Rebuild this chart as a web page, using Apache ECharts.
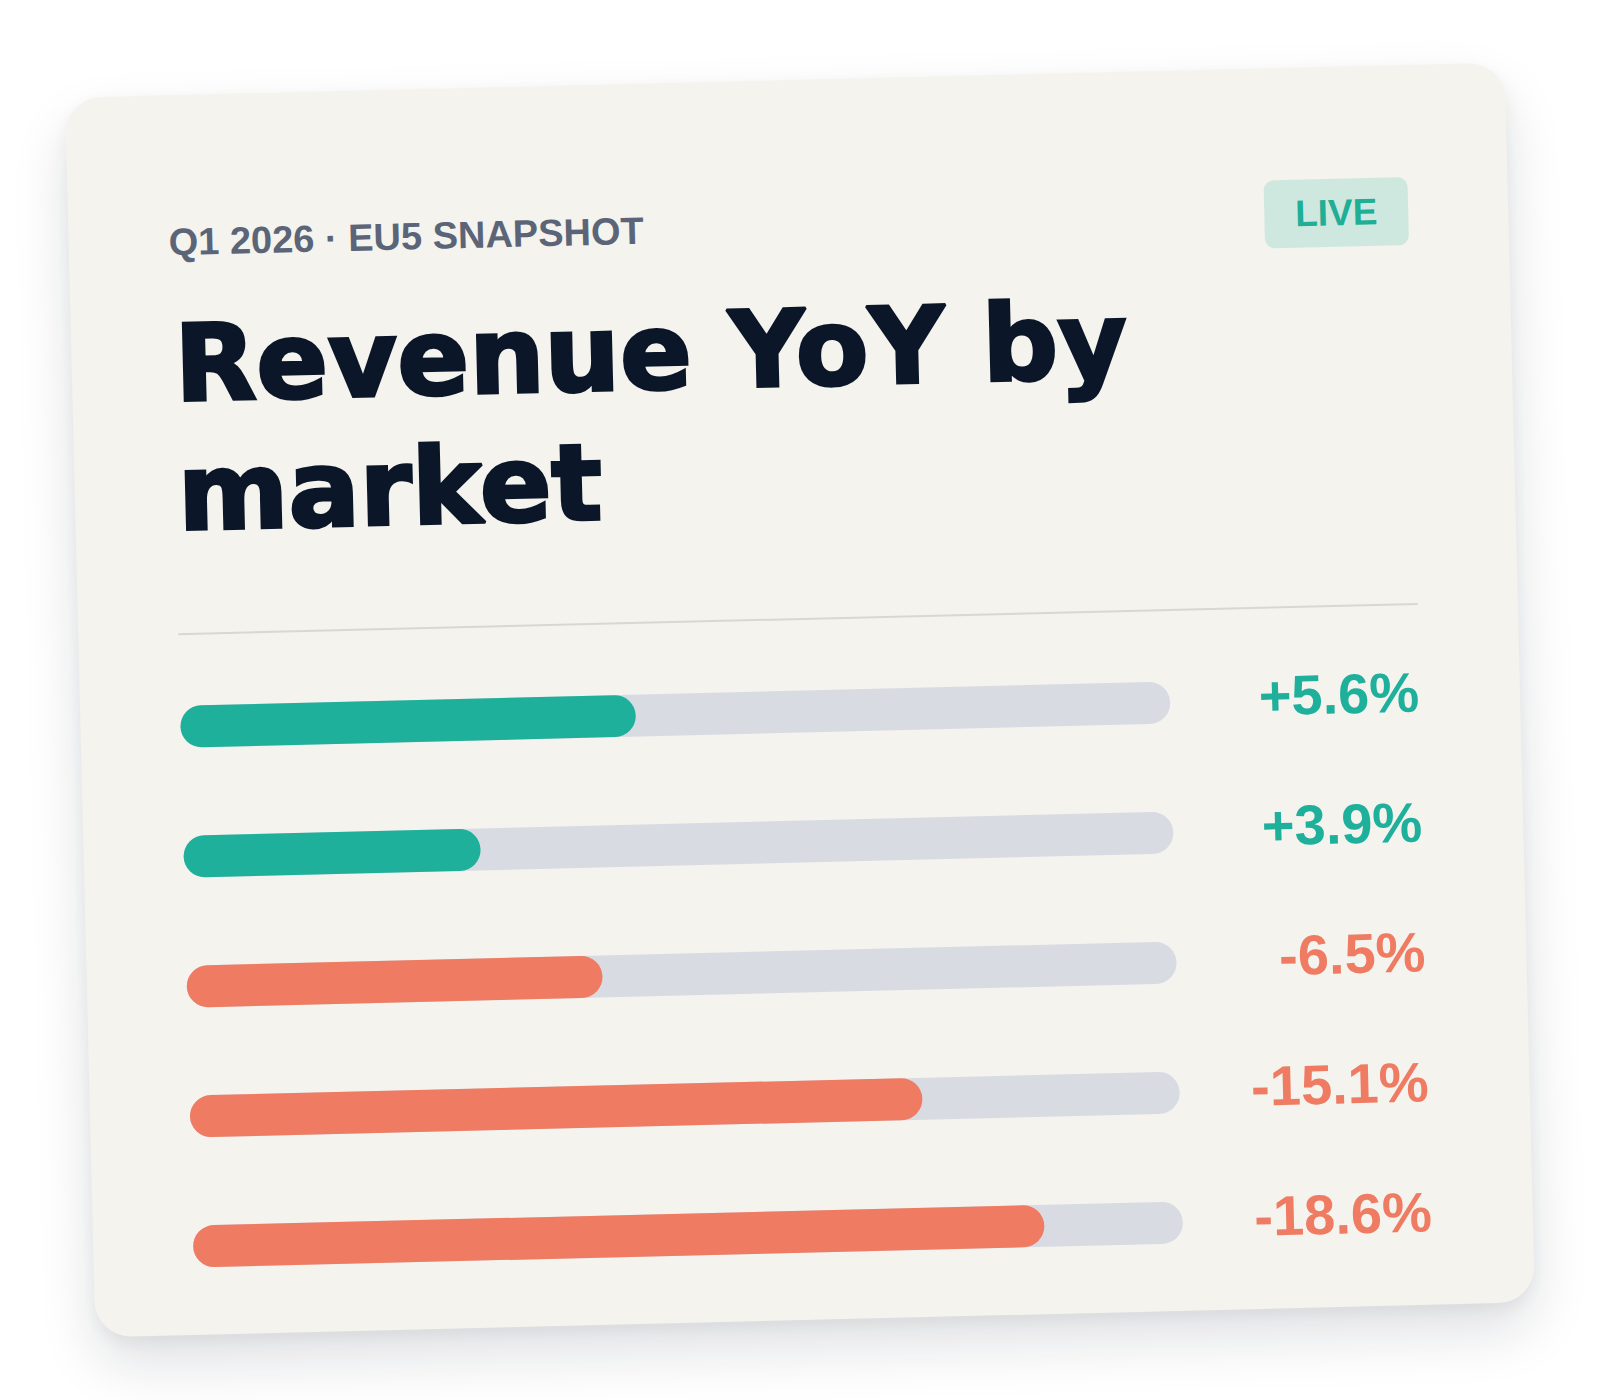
<!DOCTYPE html>
<html>
<head>
<meta charset="utf-8">
<script src="https://cdn.jsdelivr.net/npm/echarts@6/dist/echarts.min.js"></script>
<style>
  html, body { margin: 0; padding: 0; background: #ffffff; width: 1600px; height: 1400px; overflow: hidden; }
  #card {
    position: absolute; left: 80px; top: 80px; width: 1440px; height: 1240px;
    background: #F4F3EE; border-radius: 36px;
    transform: rotate(-1.4deg);
    box-shadow: 0 28px 56px rgba(15, 23, 42, 0.13), 0 6px 16px rgba(15, 23, 42, 0.05);
  }
  #chart { width: 1440px; height: 1240px; }
</style>
</head>
<body>
<div id="card"><div id="chart"></div></div>
<script>
// ---- data ----
const eyebrow = 'Q1 2026 · EU5 SNAPSHOT';
const titleLines = ['Revenue YoY by', 'market'];
const badgeText = 'LIVE';
const markets = ['Market 1', 'Market 2', 'Market 3', 'Market 4', 'Market 5'];
const yoyChange = [5.6, 3.9, -6.5, -15.1, -18.6];   // % year over year (labels)
const barFill = [46, 30, 42, 74, 86];               // bar fill, % of track

// ---- styles ----
const GREEN = '#1FB09C';
const ORANGE = '#EE7B62';
const TRACK = '#D9DBE3';
const INK = '#0B1628';
const SANS = '"Liberation Sans", Arial, sans-serif';
const HEAVY = '"DejaVu Sans", "Liberation Sans", sans-serif';

const chart = echarts.init(document.getElementById('chart'), null, { renderer: 'svg', width: 1440, height: 1240 });

const fmt = v => (v > 0 ? '+' : '') + v.toFixed(1) + '%';

const titleText = (txt, y) => ({
  type: 'text', x: 103, y: y, silent: true,
  style: { text: txt, fill: INK, stroke: INK, lineWidth: 3, lineJoin: 'round',
           font: 'bold 106px ' + HEAVY,
           textAlign: 'left', textVerticalAlign: 'middle', align: 'left', verticalAlign: 'middle' }
});

chart.setOption({
  animation: false,
  backgroundColor: 'transparent',
  grid: { left: 100, top: 566.6, width: 990, height: 650 },
  xAxis: { type: 'value', min: 0, max: 100, show: false },
  yAxis: { type: 'category', data: markets, inverse: true, show: false },
  series: [{
    type: 'bar',
    silent: true,
    barWidth: 42,
    showBackground: true,
    backgroundStyle: { color: TRACK, borderRadius: 21 },
    itemStyle: { borderRadius: 21 },
    data: barFill.map((v, i) => ({
      value: v,
      itemStyle: { color: yoyChange[i] >= 0 ? GREEN : ORANGE },
      label: { color: yoyChange[i] >= 0 ? GREEN : ORANGE }
    })),
    label: {
      show: true,
      position: [1239, 16.5],
      align: 'right',
      verticalAlign: 'middle',
      fontFamily: SANS,
      fontWeight: 'bold',
      fontSize: 56,
      formatter: p => fmt(yoyChange[p.dataIndex])
    }
  }],
  graphic: [
    {
      type: 'text', x: 100, y: 147, silent: true,
      style: { text: eyebrow, fill: '#5B6577', font: 'bold 38px ' + SANS,
               textAlign: 'left', textVerticalAlign: 'middle', align: 'left', verticalAlign: 'middle' }
    },
    titleText(titleLines[0], 269),
    titleText(titleLines[1], 398),
    {
      type: 'rect', silent: true,
      shape: { x: 1196, y: 112, width: 144, height: 68, r: 10 },
      style: { fill: '#CFE8DF' }
    },
    {
      type: 'text', x: 1268, y: 146, silent: true,
      style: { text: badgeText, fill: '#1FAE96', font: 'bold 37px ' + SANS,
               textAlign: 'center', textVerticalAlign: 'middle', align: 'center', verticalAlign: 'middle' }
    },
    {
      type: 'line', silent: true,
      shape: { x1: 100, y1: 539, x2: 1340, y2: 539 },
      style: { stroke: '#D9D7D1', lineWidth: 2 }
    }
  ]
});
</script>
</body>
</html>
